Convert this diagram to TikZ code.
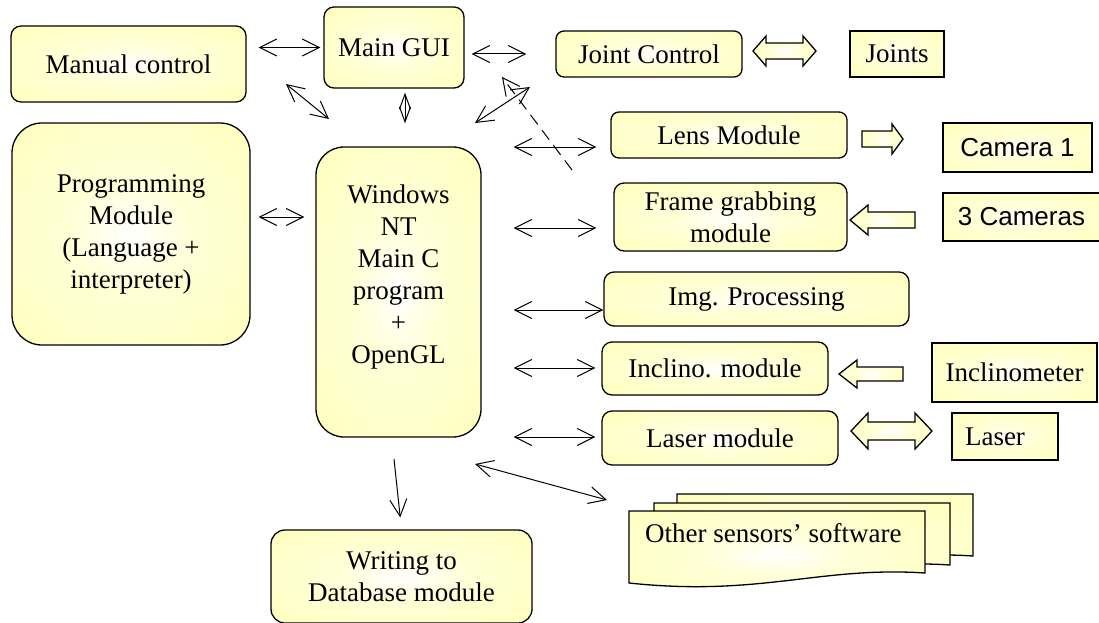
\documentclass[tikz,border=0pt]{standalone}
\usepackage{fontspec}
\setmainfont{Liberation Serif}
\newfontfamily\arialfont{Liberation Sans}
\usetikzlibrary{arrows.meta}
\definecolor{boxyellow}{RGB}{255,255,185}
\colorlet{boxmid}{white!45!boxyellow}
\pgfdeclareradialshading{boxshade}{\pgfpoint{0bp}{0bp}}{color(0bp)=(white); color(12bp)=(boxmid); color(40bp)=(boxyellow); color(50bp)=(boxyellow)}

\begin{document}
\begin{tikzpicture}[x=1pt,y=-1pt,
  box/.style={draw,line width=1.3pt,rounded corners=10pt,shading=boxshade,
    align=center,inner sep=0pt,font=\fontsize{27}{32}\selectfont},
  plainbox/.style={box,rounded corners=0pt},
  sansbox/.style={plainbox,font=\arialfont\fontsize{26}{31}\selectfont},
  fat/.style={draw,line width=1.3pt,shading=boxshade},
  dbl/.style={{Straight Barb[length=17pt,width=17pt]}-{Straight Barb[length=17pt,width=17pt]},line width=1pt},
  sgl/.style={-{Straight Barb[length=17pt,width=17pt]},line width=1pt}]
\useasboundingbox (0,0) rectangle (1099,623);
\clip (0,0) rectangle (1099,623);

% left column and main program
\node[box,minimum width=235pt,minimum height=76pt] (manual) at (128.5,64) {Manual control};
\node[box,minimum width=140pt,minimum height=81pt] (gui) at (394,47.5) {Main GUI};
\node[box,rounded corners=30pt,minimum width=238pt,minimum height=222pt] (prog) at (131,234)
  {Programming\\Module\\(Language +\\interpreter)};
\node[box,rounded corners=28pt,minimum width=165pt,minimum height=290pt,
  label={[align=center,font=\fontsize{27}{32}\selectfont,yshift=15pt]center:Windows\\NT\\Main C\\program\\+\\OpenGL}]
  (win) at (398.5,292) {};
\node[box,rounded corners=14pt,minimum width=261pt,minimum height=93pt] (dbase) at (401.5,576.5)
  {Writing to\\Database module};

% modules on the right
\node[box,rounded corners=8pt,minimum width=186pt,minimum height=46pt] (joint) at (649,54) {Joint Control};
\node[plainbox,minimum width=94pt,minimum height=46pt] (joints) at (897,54) {Joints};
\node[box,rounded corners=8pt,minimum width=236pt,minimum height=46pt] (lens) at (729,135) {Lens Module};
\node[sansbox,minimum width=149pt,minimum height=49pt] (cam1) at (1017.5,147.5) {Camera 1};
\node[box,minimum width=233pt,minimum height=68pt] (frame) at (730.5,217) {Frame grabbing\\module};
\node[sansbox,minimum width=157pt,minimum height=48pt] (cam3) at (1021.5,217) {3 Cameras};
\node[box,minimum width=305pt,minimum height=54pt] (img) at (756.5,299) {Img. Processing};
\node[box,minimum width=226pt,minimum height=53pt] (incl) at (715,368.5) {Inclino. module};
\node[plainbox,minimum width=165pt,minimum height=59pt] (inclm) at (1014.5,372.5) {Inclinometer};
\node[box,minimum width=236pt,minimum height=54pt] (lasm) at (720,438) {Laser module};
\node[plainbox,text width=80pt,align=left,inner xsep=13pt,minimum height=47pt] (laser) at (1005,436.5) {Laser};

% other sensors: stack of documents
\foreach \dx/\dy in {48/-17,25/-8,0/0}
  \draw[fat,shift={(\dx,\dy)}] (629,511) -- (925,511) -- (925,573)
    .. controls (820,566) and (760,597) .. (629,583) -- cycle;
\node[anchor=west,inner sep=0pt,font=\fontsize{27}{32}\selectfont] (others) at (645,533) {Other sensors’ software};

% block arrows
\draw[fat] (753,51) -- (766,36) -- (766,43) -- (803,43) -- (803,36) -- (816,51) -- (803,66)
  -- (803,59) -- (766,59) -- (766,66) -- cycle;
\draw[fat] (862,131) -- (892,131) -- (892,124) -- (903,139) -- (892,154) -- (892,147) -- (862,147) -- cycle;
\draw[fat] (850,220) -- (868,205) -- (868,212) -- (915,212) -- (915,228) -- (868,228) -- (868,235) -- cycle;
\draw[fat] (839,374) -- (857,360) -- (857,367) -- (903,367) -- (903,381) -- (857,381) -- (857,388) -- cycle;
\draw[fat] (851,431) -- (868,413) -- (868,422) -- (915,422) -- (915,413) -- (932,431) -- (915,449)
  -- (915,440) -- (868,440) -- (868,449) -- cycle;

% free ends of the slanted connectors
\coordinate (mw1) at (286,84);  \coordinate (mw2) at (329,119);
\coordinate (gw1) at (530,87);  \coordinate (gw2) at (475,123);
\coordinate (dsh1) at (572,170); \coordinate (dsh2) at (502,77);
\coordinate (wo1) at (475,464); \coordinate (wo2) at (607,500);
\coordinate (ws) at (394,459);

\draw[dbl,shorten <=12pt,shorten >=3pt] (manual.east |- gui.west) -- (gui.west);
\draw[dbl,shorten <=7pt,shorten >=29pt] (gui.east |- joint.west) -- (joint.west);
\draw[dbl] (mw1) -- (mw2);
\draw[{Straight Barb[length=15pt,width=11pt]}-{Straight Barb[length=15pt,width=11pt]},line width=1pt,
  shorten <=4pt,shorten >=23pt] ([xshift=11pt]gui.south) -- ([xshift=6.5pt]win.north);
\draw[dbl] (gw1) -- (gw2);
\draw[sgl,dash pattern=on 12pt off 7pt] (dsh1) -- (dsh2);
\draw[dbl,shorten <=8pt,shorten >=11pt] ([yshift=17pt]prog.east) -- ([yshift=17pt]prog.east -| win.west);
\foreach \m/\y/\s in {lens/147/14pt,frame/228/17pt,img/310/0pt,incl/368/6pt,lasm/437/6pt}
  \draw[dbl,shorten <=32pt,shorten >=\s] (win.east |- 0,\y) -- (\m.west |- 0,\y);
\draw[sgl,shorten >=12pt] (ws) -- (dbase.north);
\draw[dbl] (wo1) -- (wo2);
\end{tikzpicture}
\end{document}
